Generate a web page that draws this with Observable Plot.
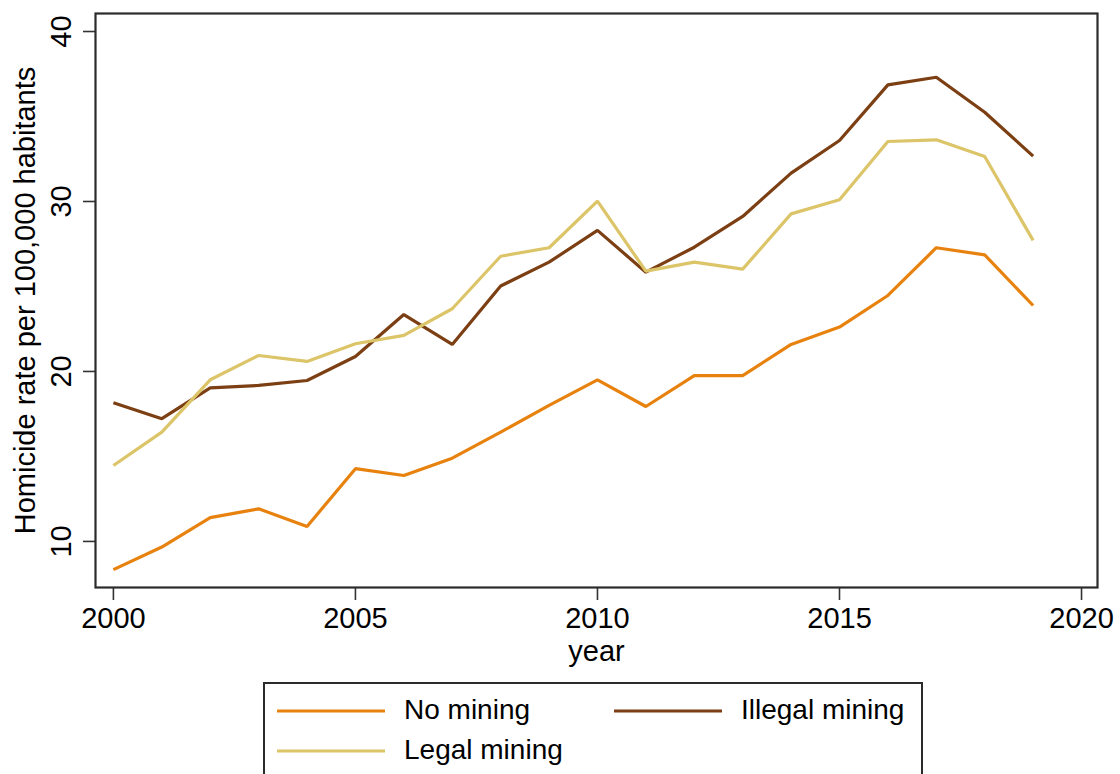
<!DOCTYPE html>
<html>
<head>
<meta charset="utf-8">
<script src="https://cdn.jsdelivr.net/npm/d3@7"></script>
<script src="https://cdn.jsdelivr.net/npm/@observablehq/plot@0.6"></script>
<style>
  html, body { margin: 0; padding: 0; background: #fff; }
  #wrap { position: relative; width: 1120px; height: 774px; overflow: hidden; font-family: "Liberation Sans", Arial, Helvetica, sans-serif; }
  #legend { position: absolute; left: 263px; top: 682px; width: 660px; height: 120px; border: 2px solid #2b2b2b; box-sizing: border-box; }
  .item { position: absolute; font-size: 28px; color: #000; line-height: 1; }
  .item svg { position: absolute; }
</style>
</head>
<body>
<div id="wrap"></div>
<script>
const years = [2000, 2001, 2002, 2003, 2004, 2005, 2006, 2007, 2008, 2009, 2010, 2011, 2012, 2013, 2014, 2015, 2016, 2017, 2018, 2019];
const noMining = [8.34, 9.67, 11.40, 11.92, 10.88, 14.28, 13.88, 14.90, 16.43, 18.00, 19.51, 17.94, 19.76, 19.76, 21.59, 22.61, 24.47, 27.28, 26.86, 23.88];
const illegalMining = [18.16, 17.22, 19.04, 19.18, 19.47, 20.88, 23.35, 21.59, 25.03, 26.43, 28.30, 25.84, 27.31, 29.12, 31.67, 33.59, 36.86, 37.31, 35.25, 32.67];
const legalMining = [14.47, 16.43, 19.51, 20.94, 20.59, 21.63, 22.12, 23.69, 26.78, 27.28, 30.02, 25.90, 26.43, 26.02, 29.27, 30.10, 33.53, 33.63, 32.65, 27.71];
const seriesNames = ["No mining", "Illegal mining", "Legal mining"];
const seriesColors = ["#e8820e", "#7c3f13", "#dcc468"];
const xTicks = [2000, 2005, 2010, 2015, 2020];
const yTicks = [10, 20, 30, 40];
const xLabel = "year";
const yLabel = "Homicide rate per 100,000 habitants";

const seriesValues = [noMining, illegalMining, legalMining];
const data = [];
seriesNames.forEach((name, s) => {
  years.forEach((yr, i) => data.push({series: name, year: yr, value: seriesValues[s][i]}));
});

const font = "Liberation Sans, Arial, Helvetica, sans-serif";
const fs = 29;

const chart = Plot.plot({
  width: 1120,
  height: 680,
  marginLeft: 95,
  marginRight: 23,
  marginTop: 13,
  marginBottom: 93,
  style: {fontFamily: font, fontSize: fs + "px", color: "#000", background: "#fff"},
  x: {domain: [1999.63, 2020.33]},
  y: {domain: [7.29, 41.06]},
  color: {domain: seriesNames, range: seriesColors},
  marks: [
    Plot.axisX({ticks: xTicks, tickSize: 13, tickPadding: 7, tickFormat: d => String(d), fontSize: fs, stroke: "#333", strokeWidth: 1.6, label: null, fill: "#000"}),
    Plot.axisY({ticks: yTicks, tickSize: 12, tickFormat: () => "", stroke: "#333", strokeWidth: 1.6, label: null}),
    Plot.text(yTicks, {y: d => d, text: d => String(d), frameAnchor: "left", dx: -25, rotate: -90, textAnchor: "middle", lineAnchor: "bottom", fontSize: fs, fill: "#000"}),
    Plot.text([xLabel], {frameAnchor: "bottom", dy: 73, lineAnchor: "bottom", textAnchor: "middle", fontSize: fs, fill: "#000"}),
    Plot.text([yLabel], {frameAnchor: "left", dx: -61, rotate: -90, textAnchor: "middle", lineAnchor: "bottom", fontSize: fs, fill: "#000"}),
    Plot.line(data, {x: "year", y: "value", z: "series", stroke: "series", strokeWidth: 3.2, strokeLinejoin: "miter", strokeLinecap: "butt"}),
    Plot.frame({stroke: "#2b2b2b", strokeWidth: 2.2})
  ]
});
const wrap = document.getElementById("wrap");
wrap.appendChild(chart);

// legend (below the SVG)
const legend = document.createElement("div");
legend.id = "legend";
wrap.appendChild(legend);
const legendItems = [
  {name: seriesNames[0], color: seriesColors[0], lx: 12, cy: 27},
  {name: seriesNames[1], color: seriesColors[1], lx: 349, cy: 27},
  {name: seriesNames[2], color: seriesColors[2], lx: 12, cy: 67}
];
legendItems.forEach(it => {
  const ns = "http://www.w3.org/2000/svg";
  const svg = document.createElementNS(ns, "svg");
  svg.setAttribute("width", 110);
  svg.setAttribute("height", 6);
  svg.style.position = "absolute";
  svg.style.left = it.lx + "px";
  svg.style.top = (it.cy - 3) + "px";
  const ln = document.createElementNS(ns, "line");
  ln.setAttribute("x1", 0); ln.setAttribute("x2", 108);
  ln.setAttribute("y1", 3); ln.setAttribute("y2", 3);
  ln.setAttribute("stroke", it.color); ln.setAttribute("stroke-width", 3.2);
  svg.appendChild(ln);
  legend.appendChild(svg);
  const t = document.createElement("div");
  t.className = "item";
  t.textContent = it.name;
  t.style.left = (it.lx + 127) + "px";
  t.style.top = (it.cy - 15) + "px";
  legend.appendChild(t);
});
</script>
</body>
</html>
